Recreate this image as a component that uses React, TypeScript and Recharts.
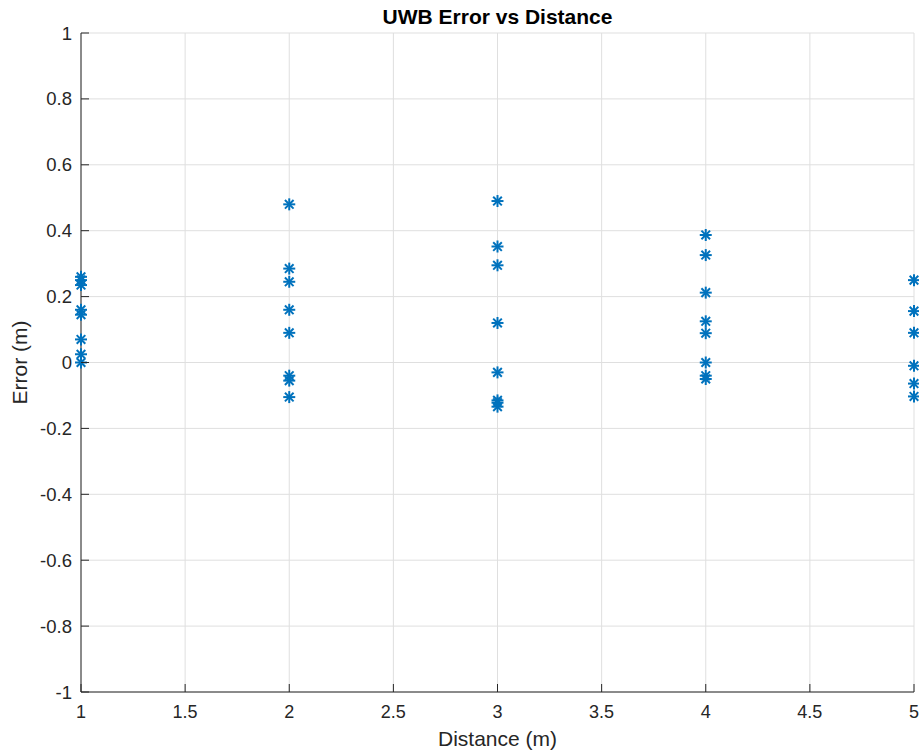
import React from "react";
import { ScatterChart, Scatter, XAxis, YAxis, CartesianGrid, Label } from "recharts";

const distances = [1, 2, 3, 4, 5];
const errorsAt1 = [0.26, 0.25, 0.235, 0.16, 0.145, 0.07, 0.025, 0.0];
const errorsAt2 = [0.48, 0.285, 0.245, 0.16, 0.09, -0.04, -0.055, -0.105];
const errorsAt3 = [0.49, 0.352, 0.295, 0.12, -0.03, -0.115, -0.122, -0.134];
const errorsAt4 = [0.387, 0.326, 0.212, 0.125, 0.089, 0.0, -0.04, -0.05];
const errorsAt5 = [0.25, 0.156, 0.09, -0.01, -0.064, -0.103];
const xTicks = [1, 1.5, 2, 2.5, 3, 3.5, 4, 4.5, 5];
const yTicks = [-1, -0.8, -0.6, -0.4, -0.2, 0, 0.2, 0.4, 0.6, 0.8, 1];

const allErrors = [errorsAt1, errorsAt2, errorsAt3, errorsAt4, errorsAt5];
const data = distances.flatMap((d, i) => allErrors[i].map((e) => ({ x: d, y: e })));

const FONT = "'Liberation Sans', Arial, Helvetica, sans-serif";
const AX = "#262626";
const BLUE = "#0072BD";

const Asterisk = (props: any) => {
  const { cx, cy } = props;
  const r = 6;
  const d = r * 0.72;
  return (
    <g stroke={BLUE} strokeWidth={2} strokeLinecap="butt">
      <line x1={cx - r} y1={cy} x2={cx + r} y2={cy} />
      <line x1={cx} y1={cy - r} x2={cx} y2={cy + r} />
      <line x1={cx - d} y1={cy - d} x2={cx + d} y2={cy + d} />
      <line x1={cx - d} y1={cy + d} x2={cx + d} y2={cy - d} />
    </g>
  );
};

const fmt = (v: number) => String(Math.round(v * 10) / 10);

const XTick = (props: any) => {
  const { x, y, payload } = props;
  return (
    <g>
      <line x1={x} y1={y} x2={x} y2={y - 8} stroke={AX} strokeWidth={1} />
      <text x={x} y={y + 26} textAnchor="middle" fill={AX} fontSize={18} fontFamily={FONT}>
        {fmt(payload.value)}
      </text>
    </g>
  );
};

const YTick = (props: any) => {
  const { x, y, payload } = props;
  return (
    <g>
      <line x1={x} y1={y} x2={x + 8} y2={y} stroke={AX} strokeWidth={1} />
      <text x={x - 9} y={y + 6.5} textAnchor="end" fill={AX} fontSize={18.5} fontFamily={FONT}>
        {fmt(payload.value)}
      </text>
    </g>
  );
};

const XLabel = (props: any) => {
  const vb = props.viewBox || {};
  const cx = vb.x + vb.width / 2;
  return (
    <text x={cx} y={vb.y + 54} textAnchor="middle" fill={AX} fontSize={21} fontFamily={FONT}>
      Distance (m)
    </text>
  );
};

const YLabel = (props: any) => {
  const vb = props.viewBox || {};
  const cy = vb.y + vb.height / 2;
  const x = 27;
  return (
    <text
      x={x}
      y={cy}
      textAnchor="middle"
      fill={AX}
      fontSize={21}
      fontFamily={FONT}
      transform={`rotate(-90, ${x}, ${cy})`}
    >
      Error (m)
    </text>
  );
};

export default function App() {
  return (
    <div style={{ position: "absolute", left: 0, top: 0, width: 919, height: 751, background: "#fff" }}>
      <div
        style={{
          position: "absolute",
          left: 81,
          width: 833,
          top: 6,
          textAlign: "center",
          fontFamily: FONT,
          fontWeight: "bold",
          fontSize: 21,
          lineHeight: "22px",
          color: "#000",
        }}
      >
        UWB Error vs Distance
      </div>
      <ScatterChart width={919} height={751} margin={{ top: 33, right: 5, left: 0, bottom: 0 }}>
        <CartesianGrid stroke="#dfdfdf" strokeWidth={1} />
        <XAxis
          type="number"
          dataKey="x"
          domain={[1, 5]}
          ticks={xTicks}
          interval={0}
          height={59}
          tickSize={0}
          tickMargin={0}
          tickLine={false}
          axisLine={{ stroke: AX, strokeWidth: 1 }}
          tick={<XTick />}
        >
          <Label content={<XLabel />} />
        </XAxis>
        <YAxis
          type="number"
          dataKey="y"
          domain={[-1, 1]}
          ticks={yTicks}
          interval={0}
          width={81}
          tickSize={0}
          tickMargin={0}
          tickLine={false}
          axisLine={{ stroke: AX, strokeWidth: 1 }}
          tick={<YTick />}
        >
          <Label content={<YLabel />} />
        </YAxis>
        <Scatter data={data} shape={<Asterisk />} isAnimationActive={false} />
      </ScatterChart>
    </div>
  );
}
